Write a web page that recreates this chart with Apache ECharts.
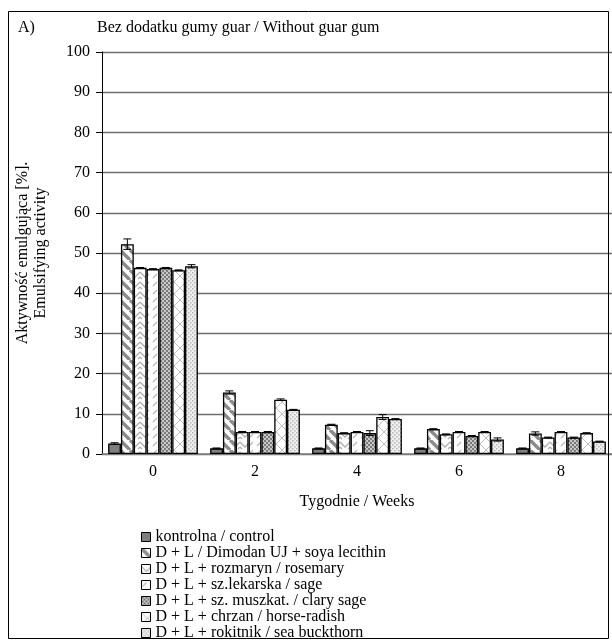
<!DOCTYPE html>
<html><head><meta charset="utf-8">
<script src="https://cdn.jsdelivr.net/npm/echarts@6/dist/echarts.min.js"></script>
<style>html,body{margin:0;padding:0;background:#fff}#c{width:612px;height:641px}</style>
</head><body><div id="c"></div>
<script>
const categories = ['0','2','4','6','8'];
const seriesNames = [
  'kontrolna / control',
  'D + L / Dimodan UJ + soya lecithin',
  'D + L + rozmaryn / rosemary',
  'D + L + sz.lekarska / sage',
  'D + L + sz. muszkat. / clary sage',
  'D + L + chrzan / horse-radish',
  'D + L + rokitnik / sea buckthorn'
];
const control      = [2.6, 1.4, 1.4, 1.4, 1.4];
const dimodan      = [52.2, 15.3, 7.3, 6.2, 5.1];
const rosemary     = [46.3, 5.5, 5.2, 4.9, 4.1];
const sage         = [46.0, 5.5, 5.5, 5.5, 5.5];
const clarySage    = [46.3, 5.5, 5.2, 4.5, 4.1];
const horseRadish  = [45.7, 13.5, 9.2, 5.5, 5.2];
const seaBuckthorn = [46.7, 11.0, 8.7, 3.6, 3.1];
const errControl   = [0.2, 0.1, 0.1, 0.1, 0.1];
const errDimodan   = [1.3, 0.4, 0.1, 0.1, 0.4];
const errRosemary  = [0.1, 0.1, 0.1, 0.1, 0.1];
const errSage      = [0.1, 0.1, 0.1, 0.1, 0.1];
const errClary     = [0.1, 0.1, 0.6, 0.1, 0.1];
const errHorse     = [0.1, 0.2, 0.6, 0.1, 0.1];
const errBuck      = [0.4, 0.1, 0.1, 0.4, 0.1];
const yTicks = [0,10,20,30,40,50,60,70,80,90,100];

const values = [control, dimodan, rosemary, sage, clarySage, horseRadish, seaBuckthorn];
const errors = [errControl, errDimodan, errRosemary, errSage, errClary, errHorse, errBuck];

function pat(w, h, draw){
  const c = document.createElement('canvas'); c.width = w; c.height = h;
  const g = c.getContext('2d'); draw(g, w, h);
  return {image: c, repeat: 'repeat'};
}
const fills = [
  '#7f7f7f',
  pat(10,10,(g,w,h)=>{g.fillStyle='#fff';g.fillRect(0,0,w,h);g.strokeStyle='#8c8c8c';g.lineWidth=3.5;
    for(let k=-2;k<=2;k++){g.beginPath();g.moveTo(k*w,0);g.lineTo(k*w+w,h);g.stroke();}}),
  pat(10,10,(g,w,h)=>{g.fillStyle='#fff';g.fillRect(0,0,w,h);g.strokeStyle='#b0b0b0';g.lineWidth=1.3;
    g.beginPath();g.moveTo(0,2);g.lineTo(5,7);g.lineTo(10,2);g.stroke();
    g.beginPath();g.moveTo(0,7);g.lineTo(2,9);g.moveTo(8,9);g.lineTo(10,7);g.stroke();}),
  pat(8,8,(g,w,h)=>{g.fillStyle='#fff';g.fillRect(0,0,w,h);g.strokeStyle='#b8b8b8';g.lineWidth=1.2;
    g.beginPath();g.moveTo(1,6);g.lineTo(5,2);g.stroke();}),
  pat(4,4,(g,w,h)=>{g.fillStyle='#c8c8c8';g.fillRect(0,0,w,h);g.fillStyle='#7a7a7a';
    g.fillRect(0,0,2,2);g.fillRect(2,2,2,2);}),
  pat(12,12,(g,w,h)=>{g.fillStyle='#fff';g.fillRect(0,0,w,h);g.strokeStyle='#bdbdbd';g.lineWidth=1;
    g.beginPath();g.moveTo(0,0);g.lineTo(12,12);g.moveTo(12,0);g.lineTo(0,12);g.stroke();}),
  pat(4,4,(g,w,h)=>{g.fillStyle='#f0f0f0';g.fillRect(0,0,w,h);g.fillStyle='#b5b5b5';
    g.fillRect(0,0,1.5,1.5);g.fillRect(2,2,1.5,1.5);})
];

const font = 'Liberation Serif';
const series = values.map((v,i)=>({
  name: seriesNames[i], type: 'bar', data: v,
  barGap: '0%', barCategoryGap: '12%',
  itemStyle: {color: fills[i], borderColor: '#000', borderWidth: 1.3},
  emphasis: {disabled: true}, animation: false
}));

const errData = [];
values.forEach((v,i)=>v.forEach((val,j)=>errData.push([j, val, errors[i][j], i])));
series.push({
  type: 'custom', name: 'err', silent: true, animation: false, z: 10,
  data: errData,
  renderItem: function(params, api){
    const j = api.value(0), val = api.value(1), e = api.value(2), i = api.value(3);
    const band = api.size([1,0])[0];
    const bw = band * 0.88 / 7;
    const cx = api.coord([j, 0])[0] - band*0.44 + bw*(i+0.5);
    const yh = api.coord([j, val+e])[1], yl = api.coord([j, val-e])[1];
    const hw = 4;
    return {type:'group', children:[
      {type:'line', shape:{x1:cx,y1:yh,x2:cx,y2:yl}, style:{stroke:'#000',lineWidth:1}},
      {type:'line', shape:{x1:cx-hw,y1:yh,x2:cx+hw,y2:yh}, style:{stroke:'#000',lineWidth:1}},
      {type:'line', shape:{x1:cx-hw,y1:yl,x2:cx+hw,y2:yl}, style:{stroke:'#000',lineWidth:1}}
    ]};
  }
});

const chart = echarts.init(document.getElementById('c'), null, {renderer:'canvas'});
chart.setOption({
  backgroundColor: '#fff',
  textStyle: {fontFamily: font},
  animation: false,
  grid: {left: 102, right: 0, top: 52, bottom: 187},
  xAxis: {
    type: 'category', data: categories,
    axisLine: {lineStyle: {color: '#808080', width: 1.5}},
    axisTick: {show: false},
    axisLabel: {color: '#000', fontSize: 16, fontFamily: font, margin: 10},
    name: 'Tygodnie / Weeks', nameLocation: 'middle', nameGap: 40,
    nameTextStyle: {color: '#000', fontSize: 16, fontFamily: font}
  },
  yAxis: {
    type: 'value', min: 0, max: 100, interval: 10,
    axisLine: {show: true, lineStyle: {color: '#000', width: 1}},
    axisTick: {show: true, length: 6, lineStyle: {color: '#000'}},
    axisLabel: {color: '#000', fontSize: 16, fontFamily: font, margin: 12,
      formatter: v => yTicks.includes(v) ? String(v) : ''},
    splitLine: {lineStyle: {color: '#6e6e6e', width: 1.3}},
    name: 'Aktywność emulgująca [%].\nEmulsifying activity', nameLocation: 'middle', nameGap: 52,
    nameTextStyle: {color: '#000', fontSize: 16, fontFamily: font, lineHeight: 18}
  },
  legend: {
    orient: 'vertical', left: 141, top: 529, height: 200, itemGap: 0,
    itemWidth: 9, itemHeight: 9, icon: 'rect', padding: 0,
    data: seriesNames,
    textStyle: {color: '#000', fontSize: 16, lineHeight: 14, fontFamily: font, padding: [0,0,0,0]},
    itemStyle: {borderColor: '#000', borderWidth: 1}
  },
  graphic: [
    {type:'rect', shape:{x:8.5,y:11.5,width:600,height:627}, style:{fill:'none',stroke:'#000',lineWidth:1}, z: 100},
    {type:'text', left: 18, top: 20, style:{text:'A)', fontSize:16, fontFamily:font, fill:'#000'}},
    {type:'text', left: 97, top: 20, style:{text:'Bez dodatku gumy guar / Without guar gum', fontSize:16, fontFamily:font, fill:'#000'}}
  ],
  series: series
});
</script></body></html>
